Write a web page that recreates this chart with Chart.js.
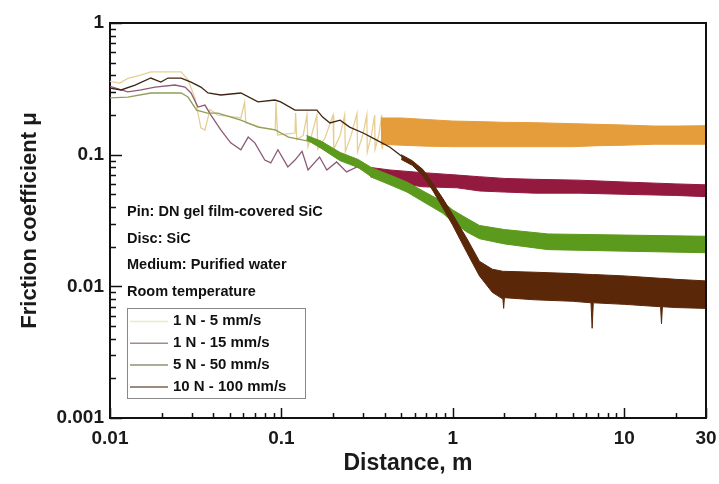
<!DOCTYPE html>
<html lang="en">
<head>
  <meta charset="UTF-8" />
  <title>Friction coefficient vs distance</title>
  <script src="https://cdn.jsdelivr.net/npm/chart.js"></script>
  <style>
    html, body { margin: 0; padding: 0; background: #fff; }
  </style>
</head>
<body>
  <canvas id="frictionChart" width="719" height="484"></canvas>

  <script>
    // ---- data ----
    const seriesLabels = ['1 N - 5 mm/s', '1 N - 15 mm/s', '5 N - 50 mm/s', '10 N - 100 mm/s'];

    // early (thin) part of each run
    const run1LineX = [0.01, 0.0114, 0.0127, 0.0149, 0.0173, 0.026, 0.0285, 0.0313, 0.0339, 0.0358, 0.0383, 0.0426, 0.05, 0.058, 0.061, 0.062, 0.076, 0.092, 0.093, 0.095, 0.12, 0.121, 0.123, 0.134, 0.141, 0.143, 0.15, 0.161, 0.163, 0.18, 0.2, 0.202, 0.22, 0.234, 0.236, 0.255, 0.276, 0.278, 0.3, 0.315, 0.317, 0.335, 0.35, 0.352, 0.37, 0.385, 0.387, 0.4];
    const run1LineY = [0.36, 0.35, 0.38, 0.40, 0.425, 0.425, 0.37, 0.27, 0.16, 0.154, 0.22, 0.20, 0.195, 0.19, 0.25, 0.175, 0.162, 0.154, 0.25, 0.141, 0.146, 0.207, 0.13, 0.14, 0.20, 0.115, 0.14, 0.20, 0.11, 0.135, 0.20, 0.11, 0.14, 0.20, 0.105, 0.14, 0.205, 0.105, 0.145, 0.20, 0.105, 0.14, 0.20, 0.11, 0.14, 0.20, 0.11, 0.15];

    const run2LineX = [0.01, 0.0127, 0.0152, 0.0183, 0.0239, 0.0274, 0.0297, 0.0326, 0.0358, 0.0388, 0.0443, 0.0506, 0.058, 0.064, 0.07, 0.08, 0.0867, 0.0954, 0.109, 0.12, 0.132, 0.143, 0.167, 0.184, 0.21, 0.24, 0.276, 0.33];
    const run2LineY = [0.33, 0.30, 0.31, 0.326, 0.338, 0.326, 0.294, 0.23, 0.238, 0.20, 0.154, 0.123, 0.109, 0.136, 0.123, 0.091, 0.0865, 0.109, 0.0807, 0.091, 0.106, 0.0765, 0.096, 0.0765, 0.088, 0.074, 0.0807, 0.0726];

    const run3LineX = [0.01, 0.0127, 0.0173, 0.026, 0.0285, 0.032, 0.037, 0.0426, 0.058, 0.073, 0.092, 0.11, 0.13, 0.15];
    const run3LineY = [0.27, 0.274, 0.294, 0.294, 0.274, 0.218, 0.207, 0.207, 0.183, 0.162, 0.154, 0.136, 0.13, 0.125];

    const run4LineX = [0.01, 0.0116, 0.014, 0.0173, 0.0198, 0.0218, 0.026, 0.0297, 0.0339, 0.0373, 0.0443, 0.058, 0.073, 0.0916, 0.099, 0.12, 0.161, 0.174, 0.192, 0.22, 0.25, 0.3, 0.36, 0.43, 0.51];
    const run4LineY = [0.32, 0.31, 0.338, 0.382, 0.356, 0.382, 0.382, 0.356, 0.326, 0.294, 0.284, 0.294, 0.252, 0.26, 0.252, 0.218, 0.218, 0.193, 0.174, 0.183, 0.162, 0.146, 0.129, 0.114, 0.096];

    // noisy steady part: upper / lower edge of each band
    const run1BandX  = [0.38, 0.5, 0.7, 1, 1.5, 2, 3, 5, 7, 10, 15, 20, 30];
    const run1BandHi = [0.19, 0.19, 0.185, 0.18, 0.178, 0.176, 0.175, 0.172, 0.17, 0.168, 0.165, 0.165, 0.166];
    const run1BandLo = [0.12, 0.118, 0.116, 0.115, 0.115, 0.115, 0.115, 0.115, 0.117, 0.118, 0.12, 0.12, 0.12];

    const run2BandX  = [0.33, 0.43, 0.67, 1.06, 1.43, 2, 3, 5.5, 10, 20, 30];
    const run2BandHi = [0.08, 0.0765, 0.073, 0.07, 0.068, 0.066, 0.065, 0.064, 0.062, 0.06, 0.059];
    const run2BandLo = [0.068, 0.062, 0.057, 0.056, 0.053, 0.052, 0.051, 0.051, 0.05, 0.049, 0.048];

    const run3BandX  = [0.14, 0.17, 0.22, 0.28, 0.34, 0.43, 0.54, 0.67, 0.87, 1.0, 1.2, 1.43, 2, 3.6, 10, 30];
    const run3BandHi = [0.14, 0.127, 0.104, 0.092, 0.079, 0.07, 0.062, 0.053, 0.044, 0.038, 0.033, 0.029, 0.027, 0.025, 0.0245, 0.024];
    const run3BandLo = [0.13, 0.112, 0.09, 0.08, 0.067, 0.059, 0.052, 0.044, 0.036, 0.031, 0.026, 0.023, 0.021, 0.019, 0.0185, 0.018];

    const run4BandX  = [0.5, 0.58, 0.67, 0.76, 0.87, 1.0, 1.21, 1.43, 1.7, 1.96, 1.98, 2.0, 3, 5, 6.4, 6.5, 6.6, 10, 16.3, 16.5, 16.7, 20, 30];
    const run4BandHi = [0.1, 0.09, 0.077, 0.061, 0.047, 0.035, 0.023, 0.0155, 0.0135, 0.013, 0.013, 0.013, 0.0128, 0.0125, 0.0123, 0.0123, 0.0123, 0.012, 0.0115, 0.0115, 0.0115, 0.0113, 0.011];
    const run4BandLo = [0.092, 0.083, 0.069, 0.054, 0.04, 0.029, 0.018, 0.012, 0.009, 0.008, 0.0068, 0.0082, 0.0079, 0.0077, 0.0075, 0.0048, 0.0075, 0.0073, 0.007, 0.0052, 0.007, 0.0069, 0.0068];

    // axes
    const xTickValues = [0.01, 0.1, 1, 10, 30];
    const xTickLabels = ['0.01', '0.1', '1', '10', '30'];
    const yTickValues = [0.001, 0.01, 0.1, 1];
    const yTickLabels = ['0.001', '0.01', '0.1', '1'];
    const xMinorTicks = [0.02, 0.03, 0.04, 0.05, 0.06, 0.07, 0.08, 0.09, 0.2, 0.3, 0.4, 0.5, 0.6, 0.7, 0.8, 0.9, 2, 3, 4, 5, 6, 7, 8, 9, 20];
    const yMinorTicks = [0.002, 0.003, 0.004, 0.005, 0.006, 0.007, 0.008, 0.009, 0.02, 0.03, 0.04, 0.05, 0.06, 0.07, 0.08, 0.09, 0.2, 0.3, 0.4, 0.5, 0.6, 0.7, 0.8, 0.9];

    const notes = ['Pin: DN gel film-covered SiC', 'Disc: SiC', 'Medium: Purified water', 'Room temperature'];

    // colours
    const lineColors   = ['#e6cf92', '#8c5a78', '#8f9f5a', '#3e2414'];
    const bandColors   = ['#e59d3c', '#931a3e', '#5b9a1c', '#5a2709'];
    const legendColors = ['#ecebc8', '#a08c88', '#8c9470', '#7c6454'];

    const FONT = '"Liberation Sans", Arial, Helvetica, sans-serif';

    function pts(xs, ys) {
      return xs.map((x, i) => ({ x: x, y: ys[i] }));
    }

    const lineX = [run1LineX, run2LineX, run3LineX, run4LineX];
    const lineY = [run1LineY, run2LineY, run3LineY, run4LineY];
    const bandX = [run1BandX, run2BandX, run3BandX, run4BandX];
    const bandHi = [run1BandHi, run2BandHi, run3BandHi, run4BandHi];
    const bandLo = [run1BandLo, run2BandLo, run3BandLo, run4BandLo];

    const datasets = [];
    seriesLabels.forEach((label, i) => {
      const order = 3 - i; // heavier load drawn on top
      datasets.push({
        label: label + ' (hi)',
        data: pts(bandX[i], bandHi[i]),
        borderColor: bandColors[i], borderWidth: 1,
        pointRadius: 0, fill: false, order: order
      });
      datasets.push({
        label: label + ' (lo)',
        data: pts(bandX[i], bandLo[i]),
        borderColor: bandColors[i], borderWidth: 1,
        backgroundColor: bandColors[i],
        pointRadius: 0, fill: '-1', order: order
      });
      datasets.push({
        label: label,
        data: pts(lineX[i], lineY[i]),
        borderColor: lineColors[i], borderWidth: 1.3,
        pointRadius: 0, fill: false, order: order
      });
    });

    // ticks, frame, notes and the boxed legend
    const decorations = {
      id: 'decorations',
      afterDatasetsDraw(chart) {
        const { ctx, chartArea: a, scales } = chart;
        ctx.save();
        ctx.strokeStyle = '#111';
        ctx.lineWidth = 2;
        ctx.beginPath();
        ctx.moveTo(a.left, a.top); ctx.lineTo(a.right, a.top); ctx.lineTo(a.right, a.bottom);
        ctx.stroke();

        ctx.lineWidth = 1.5;
        ctx.beginPath();
        xTickValues.forEach(v => {
          const px = Math.round(scales.x.getPixelForValue(v)) + 0.5;
          ctx.moveTo(px, a.bottom); ctx.lineTo(px, a.bottom - 10);
        });
        xMinorTicks.forEach(v => {
          const px = Math.round(scales.x.getPixelForValue(v)) + 0.5;
          ctx.moveTo(px, a.bottom); ctx.lineTo(px, a.bottom - 5);
        });
        yTickValues.forEach(v => {
          const py = Math.round(scales.y.getPixelForValue(v)) + 0.5;
          ctx.moveTo(a.left, py); ctx.lineTo(a.left + 12, py);
        });
        yMinorTicks.forEach(v => {
          const py = Math.round(scales.y.getPixelForValue(v)) + 0.5;
          ctx.moveTo(a.left, py); ctx.lineTo(a.left + 6, py);
        });
        ctx.stroke();

        // condition notes
        ctx.fillStyle = '#111';
        ctx.font = 'bold 14.5px ' + FONT;
        ctx.textBaseline = 'middle';
        ctx.textAlign = 'left';
        notes.forEach((t, i) => ctx.fillText(t, 127, 212 + i * 26.7));

        // legend box
        ctx.fillStyle = '#fff';
        ctx.fillRect(127, 308, 178, 90);
        ctx.strokeStyle = '#888';
        ctx.lineWidth = 1;
        ctx.strokeRect(127.5, 308.5, 178, 90);
        ctx.font = 'bold 15px ' + FONT;
        seriesLabels.forEach((t, i) => {
          const y = 321 + i * 21.8;
          ctx.strokeStyle = legendColors[i];
          ctx.lineWidth = 1.5;
          ctx.beginPath();
          ctx.moveTo(130, y + 0.5); ctx.lineTo(168, y + 0.5);
          ctx.stroke();
          ctx.fillStyle = '#111';
          ctx.fillText(t, 173, y);
        });
        ctx.restore();
      }
    };

    new Chart(document.getElementById('frictionChart').getContext('2d'), {
      type: 'line',
      data: { datasets: datasets },
      options: {
        responsive: false,
        animation: false,
        events: [],
        layout: { padding: { top: 23, right: 13, left: 0, bottom: 0 } },
        elements: { line: { tension: 0 } },
        plugins: { legend: { display: false }, tooltip: { enabled: false } },
        scales: {
          x: {
            type: 'logarithmic', min: 0.01, max: 30,
            grid: { display: false, drawTicks: false },
            border: { display: true, color: '#111', width: 2 },
            afterBuildTicks: s => { s.ticks = xTickValues.map(v => ({ value: v })); },
            afterFit: s => { s.height = 66; s.paddingLeft = 0; s.paddingRight = 0; },
            ticks: {
              autoSkip: false, maxRotation: 0, padding: 9, color: '#1a1a1a',
              font: { family: FONT, size: 19, weight: 'bold' },
              callback: (v, i) => xTickLabels[i]
            },
            title: {
              display: true, text: 'Distance, m', color: '#1a1a1a',
              font: { family: FONT, size: 23, weight: 'bold' },
              padding: { top: 0, bottom: 7 }
            }
          },
          y: {
            type: 'logarithmic', min: 0.001, max: 1,
            grid: { display: false, drawTicks: false },
            border: { display: true, color: '#111', width: 2 },
            afterBuildTicks: s => { s.ticks = yTickValues.map(v => ({ value: v })); },
            afterFit: s => { s.width = 110; s.paddingTop = 0; s.paddingBottom = 0; },
            ticks: {
              autoSkip: false, padding: 6, color: '#1a1a1a',
              font: { family: FONT, size: 19, weight: 'bold' },
              callback: (v, i) => yTickLabels[i]
            },
            title: {
              display: true, text: 'Friction coefficient μ', color: '#1a1a1a',
              font: { family: FONT, size: 22, weight: 'bold' },
              padding: { top: 17, bottom: 0 }
            }
          }
        }
      },
      plugins: [decorations]
    });
  </script>
</body>
</html>
